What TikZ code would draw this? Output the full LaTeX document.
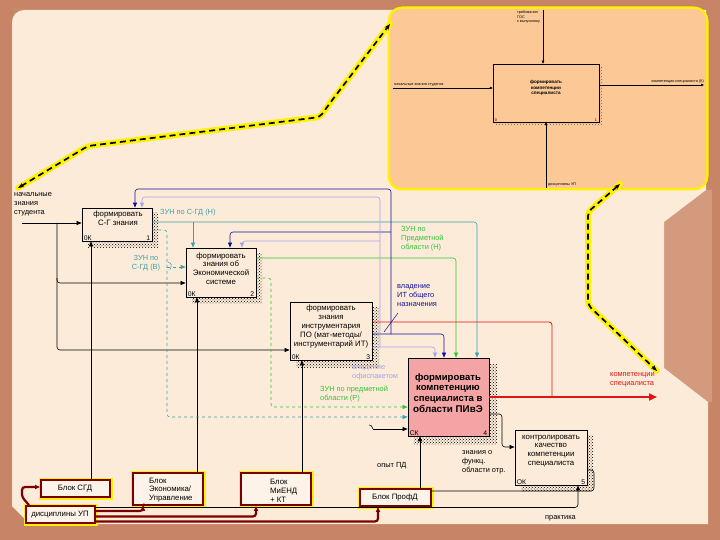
\documentclass[tikz,border=0pt]{standalone}
\usepackage{fontspec}
\setmainfont{Liberation Sans}
\usetikzlibrary{arrows.meta,patterns,calc}
\definecolor{bgc}{HTML}{FCEBD9}
\definecolor{frameC}{HTML}{C78466}
\definecolor{frameL}{HTML}{D39A7E}
\definecolor{panelC}{HTML}{FCC996}
\definecolor{pinkC}{HTML}{F4A4A4}
\definecolor{tealC}{HTML}{3AA3A8}
\definecolor{greenC}{HTML}{33C433}
\definecolor{navyC}{HTML}{10109A}
\definecolor{lavC}{HTML}{A4A4E6}
\definecolor{redC}{HTML}{E01414}
\definecolor{dkred}{HTML}{7A0000}
\definecolor{glow}{HTML}{FFF200}
\tikzset{
  box/.style={draw, line width=0.8pt, fill=bgc, inner sep=0pt},
  shadowbox/.style={pattern=crosshatch dots, pattern color=black},
  txt/.style={font=\fontsize{7.8}{8.8}\selectfont, align=center, inner sep=0pt},
  lbl/.style={font=\fontsize{7.4}{9}\selectfont, align=left, inner sep=0pt},
  corner/.style={font=\fontsize{6.8}{7}\selectfont, inner sep=0pt},
  ptxt/.style={font=\fontsize{3.8}{4.4}\selectfont, align=left, inner sep=0pt},
  ln/.style={line width=0.6pt},
  tip/.style={-{Triangle[length=5pt,width=4pt]}},
  blk/.style={draw=dkred, line width=1.8pt, fill=bgc!60!white, inner sep=0pt,
     preaction={draw=glow, line width=5pt}},
  drl/.style={draw=dkred, line width=2.2pt, rounded corners=3pt},
  yglow/.style={draw=glow, line width=6pt, line cap=round, rounded corners=4pt},
  ydash/.style={draw=black, line width=1.7pt, dash pattern=on 6pt off 4pt, rounded corners=4pt, {Stealth[length=6pt]}-{Stealth[length=6pt]}},
}
\begin{document}
\begin{tikzpicture}[x=1pt,y=-1pt]
\useasboundingbox (0,0) rectangle (720,540);
% ---------- frame ----------
\fill[frameC] (0,0) rectangle (720,540);
\fill[frameL] (706,190) -- (664,222) -- (664,368) -- (708,402) -- (712,402) -- (712,190) -- cycle;
\fill[bgc] (12,10) -- (706,10) -- (706,190) -- (664,222) -- (664,368) -- (708,402) -- (708,524) -- (30,524) -- (12,506) -- cycle;
\fill[frameC] (12,10) -- (24,10) .. controls (17,10) and (12,15) .. (12,22) -- cycle;

% ---------- top-right panel ----------
\fill[panelC, rounded corners=12pt, preaction={draw=glow, line width=5pt, rounded corners=12pt}] (390,9) rectangle (706,188);
\fill[shadowbox, pattern color=black!60] (496,67) rectangle (602,125);
\node[draw, line width=0.5pt, fill=panelC, minimum width=106pt, minimum height=58pt, inner sep=0pt] (pb) at (546,93) {};
\node[ptxt, align=center, font=\fontsize{4.6}{5.4}\selectfont\bfseries] (pbt) at (546,88) {формировать\\компетенции\\специалиста};
\node[ptxt, anchor=south west] (pbc) at ($(pb.south west)+(2,-1)$) {0};
\node[ptxt, anchor=south east] (pbn) at ($(pb.south east)+(-2,-1)$) {1};
\coordinate (pin) at (393,88);
\draw[line width=0.4pt, -{Triangle[length=3pt,width=2.5pt]}] (pin) -- (pin -| pb.west);
\node[ptxt, anchor=south west] (pinl) at (394,86.5) {начальные знания студента};
\coordinate (pct) at (543,10);
\draw[line width=0.4pt, -{Triangle[length=3pt,width=2.5pt]}] (pct) -- (pct |- pb.north);
\node[ptxt, anchor=north west] (pctl) at (517,11) {требования\\ГОС\\к выпускнику};
\coordinate (pout) at (704,85);
\draw[line width=0.4pt, -{Triangle[length=3pt,width=2.5pt]}] (pout -| pb.east) -- (pout);
\node[ptxt, anchor=south east] (poutl) at (704,83) {компетенции специалиста (К)};
\coordinate (pmc) at (546,188);
\draw[line width=0.4pt, -{Triangle[length=3pt,width=2.5pt]}] (pmc) -- (pmc |- pb.south);
\node[ptxt, anchor=south west] (pmcl) at (548,186) {дисциплины УП};

% ---------- yellow dashed pointers ----------
\coordinate (ya) at (18,188); \coordinate (yb) at (88,146); \coordinate (yc) at (320,117);
\coordinate (yd) at (330,103); \coordinate (ye) at (390,24);
\draw[yglow] (ya) -- (yb) -- (yc) -- (yd) -- (ye);
\draw[ydash] (ya) -- (yb) -- (yc) -- (yd) -- (ye);
\coordinate (za) at (620,184); \coordinate (zb) at (588,212); \coordinate (zc) at (588,305); \coordinate (zd) at (657,371);
\draw[yglow] (za) -- (zb) -- (zc) -- (zd);
\draw[ydash] (za) -- (zb) -- (zc) -- (zd);

% ---------- shadows ----------
\fill[shadowbox] (88,213) rectangle (158,247);
\fill[shadowbox] (192,253) rectangle (262,303);
\fill[shadowbox] (296,307) rectangle (379,367);
\fill[shadowbox] (414,364) rectangle (497,444);
\fill[shadowbox] (521,435) rectangle (593,491);

% ---------- activity boxes ----------
\node[box, minimum width=70pt, minimum height=33pt] (b1) at (117,224.5) {};
\node[box, minimum width=70pt, minimum height=49pt] (b2) at (221,272.5) {};
\node[box, minimum width=82pt, minimum height=58pt] (b3) at (331,331) {};
\node[box, fill=pinkC, minimum width=81pt, minimum height=78pt] (b4) at (448.5,397) {};
\node[box, minimum width=72pt, minimum height=55pt] (b5) at (551,457.5) {};

\node[txt] (t1) at (118,218) {формировать\\С-Г знания};
\node[txt] (t2) at (221,268.5) {формировать\\знания об\\Экономической\\системе};
\node[txt] (t3) at (331,326.5) {формировать\\знания\\инструментария\\ПО (мат-методы/\\инструментарий ИТ)};
\node[txt, font=\fontsize{9.5}{10.8}\selectfont\bfseries] (t4) at (448,393) {формировать\\компетенцию\\специалиста в\\{\fontsize{9.8}{12}\selectfont области ПИвЭ}};
\node[txt] (t5) at (551,451) {контролировать\\качество\\компетенции\\специалиста};

\node[corner, anchor=south west] (c1a) at ($(b1.south west)+(2,-1)$) {0К};
\node[corner, anchor=south east] (c1b) at ($(b1.south east)+(-2,-1)$) {1};
\node[corner, anchor=south west] (c2a) at ($(b2.south west)+(2,-1)$) {0К};
\node[corner, anchor=south east] (c2b) at ($(b2.south east)+(-2,-1)$) {2};
\node[corner, anchor=south west] (c3a) at ($(b3.south west)+(2,-1)$) {0К};
\node[corner, anchor=south east] (c3b) at ($(b3.south east)+(-2,-1)$) {3};
\node[corner, anchor=south west] (c4a) at ($(b4.south west)+(2,-1)$) {СК};
\node[corner, anchor=south east] (c4b) at ($(b4.south east)+(-2,-1)$) {4};
\node[corner, anchor=south west] (c5a) at ($(b5.south west)+(2,-1)$) {ОК};
\node[corner, anchor=south east] (c5b) at ($(b5.south east)+(-2,-1)$) {5};

% ---------- mechanism blocks ----------
\node[blk, minimum width=69pt, minimum height=17pt] (k1) at (75.5,488.5) {};
\node[txt] (k1t) at (75,488.5) {Блок СГД};
\node[blk, minimum width=70pt, minimum height=32pt] (k2) at (168,489) {};
\node[txt, align=left, anchor=west] (k2t) at (149,490) {Блок\\Экономика/\\Управление};
\node[blk, minimum width=70pt, minimum height=32pt] (k3) at (276,489) {};
\node[txt, align=left, anchor=west] (k3t) at (270,491) {Блок\\МиЕНД\\+ КТ};
\node[blk, minimum width=69pt, minimum height=17pt] (ku) at (60.5,514.5) {};
\node[txt] (kut) at (60,514.5) {дисциплины УП};
\node[blk, minimum width=71pt, minimum height=17pt] (kp) at (395.5,497.5) {};
\node[txt] (kpt) at (395,497.5) {Блок ПрофД};

% ---------- black connectors ----------
\coordinate (s0) at (22,223);
\draw[ln,tip] (s0) -- (s0 -| b1.west);
\coordinate (br) at (57,223);
\coordinate (j2) at (57,283);
\coordinate (j3) at (57,350);
\draw[ln,tip,rounded corners=3pt] (br) -- (j3) -- (j3 -| b3.west);
\draw[ln,tip,rounded corners=3pt] (57,278) -- (j2) -- (j2 -| b2.west);
\draw[ln,tip] (k1.north -| 91,0) -- (b1.south -| 91,0);
\draw[ln,tip] (k2.north -| 197,0) -- (b2.south -| 197,0);
\draw[ln,tip] (k3.north -| 302,0) -- (b3.south -| 302,0);
\draw[ln,tip] (kp.north -| 420,0) -- (b4.south -| 420,0);
\coordinate (s4) at (373,429);
\draw[ln,tip] (s4) -- (s4 -| b4.west);
\draw[ln] (369,425) .. controls (371,425) .. (s4);
\draw[ln,tip,rounded corners=3pt] (b4.east |- 0,414) -- (502,414) -- (502,447) -- (b5.west |- 0,447);
\draw[ln,rounded corners=3pt] (b5.east |- 0,470) -- (594,470) -- (594,491) -- (kp.east |- 0,491);
\draw[ln,tip,rounded corners=3pt] (ku.east |- 0,507.5) -- (578,507.5) -- (b5.south -| 578,0);

% ---------- dark red mechanism feeds ----------
\draw[drl,tip] (ku.east |- 0,511) -- (143,511) -- (k2.south -| 143,0);
\draw[drl,tip] (ku.east |- 0,516.5) -- (256,516.5) -- (k3.south -| 256,0);
\draw[drl,tip] (ku.east |- 0,521.5) -- (378,521.5) -- (kp.south -| 378,0);
\draw[drl,tip] (ku.north -| 29,0) -- (22,497) -- (22,487) -- (k1.west |- 0,487);

% ---------- teal ----------
\draw[ln,tealC,tip,rounded corners=3pt] (b1.east |- 0,222) -- (477,222) -- (b4.north -| 477,0);
\draw[ln,tealC,tip] (193,222) -- (b2.north -| 193,0);
\draw[ln,tealC,dashed,tip,rounded corners=3pt] (b1.east |- 0,230) -- (167,230) -- (167,417) -- (b4.west |- 0,417);
\draw[ln,tealC,dashed,tip] (167,267) -- (b2.west |- 0,267);
% ---------- green ----------
\draw[ln,greenC,tip,rounded corners=3pt] (b2.east |- 0,258) -- (456,258) -- (b4.north -| 456,0);
\draw[ln,greenC,dashed,tip,rounded corners=3pt] (b2.east |- 0,278) -- (271,278) -- (271,407) -- (b4.west |- 0,407);
% ---------- navy ----------
\draw[ln,navyC,tip,rounded corners=3pt] (b3.east |- 0,334) -- (444,334) -- (b4.north -| 444,0);
\draw[ln,navyC,tip,rounded corners=3pt] (391,334) -- (391,189) -- (135,189) -- (b1.north -| 135,0);
\draw[ln,navyC,tip,rounded corners=3pt] (391,232) -- (230,232) -- (b2.north -| 230,0);
% ---------- lavender ----------
\draw[ln,lavC,tip,rounded corners=3pt] (b3.east |- 0,347) -- (435,347) -- (b4.north -| 435,0);
\draw[ln,lavC,tip,rounded corners=3pt] (380,347) -- (380,197) -- (142,197) -- (b1.north -| 142,0);
\draw[ln,lavC,tip,rounded corners=3pt] (380,241) -- (242,241) -- (b2.north -| 242,0);
% ---------- red ----------
\draw[line width=0.8pt,redC,rounded corners=3pt] (b3.east |- 0,322) -- (552,322) -- (552,397);
\coordinate (out) at (657,397);
\draw[line width=2.4pt,redC,-{Triangle[length=8pt,width=7pt]}] (b4.east |- out) -- (out);

% ---------- label squiggles ----------
\draw[line width=0.5pt,navyC] (384,332) -- (398,313);
\draw[line width=0.5pt,tealC] (168,262) .. controls (172,264) .. (170,270);

% ---------- labels ----------
\node[lbl, anchor=north west] (l0) at (14,192) {начальные\\знания\\студента};
\node[lbl, tealC, anchor=west] (l1) at (160,213) {ЗУН по С-ГД (Н)};
\node[lbl, tealC, align=center] (l2) at (146,263) {ЗУН по\\С-ГД (В)};
\node[lbl, greenC, anchor=north west] (l3) at (401,226) {ЗУН по\\Предметной\\области (Н)};
\node[lbl, navyC, anchor=north west] (l4) at (397,284) {владение\\ИТ общего\\назначения};
\node[lbl, lavC, anchor=north west] (l5) at (352,365) {владение\\офиспакетом};
\node[lbl, greenC, anchor=north west] (l6) at (320,386) {ЗУН по предметной\\области (Р)};
\node[lbl, redC, anchor=north west] (l7) at (610,372) {компетенции\\специалиста};
\node[lbl, anchor=west] (l8) at (377,466) {опыт ПД};
\node[lbl, anchor=north west] (l9) at (462,450) {знания о\\функц.\\области отр.};
\node[lbl, anchor=west] (l10) at (545,518) {практика};
\end{tikzpicture}
\end{document}
